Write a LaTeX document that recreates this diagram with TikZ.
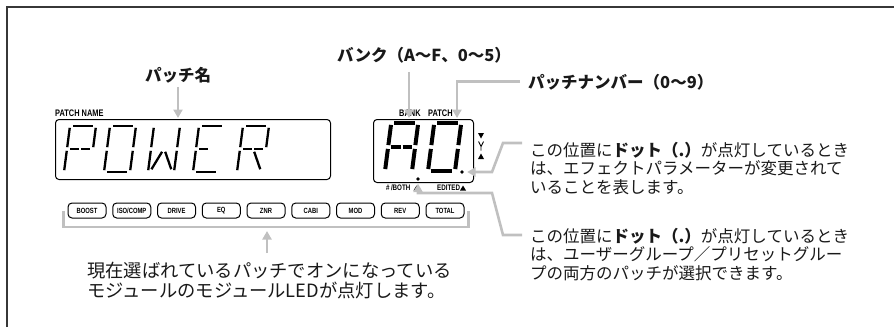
\documentclass[tikz,border=0pt]{standalone}
\usepackage{fontspec}
\setmainfont{Liberation Sans}
\newfontfamily\jpfont{Noto Sans CJK JP}
\newfontfamily\condfont[FakeStretch=0.78]{Liberation Sans}
\usetikzlibrary{arrows.meta}
\definecolor{conngray}{RGB}{192,192,192}
\definecolor{framegray}{RGB}{55,55,55}
\definecolor{txt}{RGB}{25,25,25}
% LCD segments in a unit cell (width 1, height 2)
\newcommand\lsA{\draw (0.12,2)--(0.88,2);}
\newcommand\lsB{\draw (1,1.08)--(1,1.92);}
\newcommand\lsC{\draw (1,0.08)--(1,0.92);}
\newcommand\lsD{\draw (0.12,0)--(0.88,0);}
\newcommand\lsE{\draw (0,0.08)--(0,0.92);}
\newcommand\lsF{\draw (0,1.08)--(0,1.92);}
\newcommand\lsG{\draw (0.12,1)--(0.46,1);}
\newcommand\lsH{\draw (0.54,1)--(0.88,1);}
\newcommand\lsK{\draw (0.56,0.88)--(0.88,0.12);}
\newcommand\lsL{\draw (0.44,0.88)--(0.12,0.12);}
\newcommand\lcdchar[5]{\begin{scope}[shift={(#1,-#2)},xslant=0.13,xscale=#3,yscale=#4]#5\end{scope}}
\newcommand\lcdP{\lsA\lsB\lsF\lsE\lsG\lsH}
\newcommand\lcdO{\lsA\lsB\lsC\lsD\lsE\lsF}
\newcommand\lcdW{\lsB\lsC\lsE\lsF\lsK\lsL}
\newcommand\lcdE{\lsA\lsD\lsE\lsF\lsG}
\newcommand\lcdR{\lsA\lsB\lsE\lsF\lsG\lsH\lsK}
\newcommand\lcdAA{\lsA\lsB\lsC\lsE\lsF\lsG\lsH}
\begin{document}
\begin{tikzpicture}[x=1pt,y=1pt,
  conn/.style={draw=conngray,line width=2.6pt},
  arr/.style={conn,-{Triangle[length=8.5pt,width=9pt]}},
  head/.style={font=\jpfont\bfseries\fontsize{16.5}{18}\selectfont,text=txt,inner sep=0pt,anchor=base west},
  body/.style={font=\jpfont\fontsize{16.5}{19}\selectfont,text=txt,inner sep=0pt,anchor=base west},
  bigbody/.style={body,font=\jpfont\fontsize{18.3}{20}\selectfont},
  tinylabel/.style={font=\condfont\bfseries\fontsize{9.5}{10}\selectfont,inner sep=0pt,anchor=base west},
  tinierlabel/.style={font=\condfont\bfseries\fontsize{8}{9}\selectfont,inner sep=0pt,anchor=base west},
  btn/.style={draw,line width=1pt,rounded corners=4pt,minimum width=38pt,minimum height=15pt,inner sep=0pt,font=\condfont\bfseries\fontsize{7.5}{8}\selectfont},
  lcdbox/.style={draw,line width=1pt,rounded corners=3.5pt,inner sep=0pt,anchor=north west},
  dot/.style={circle,fill,inner sep=0pt,minimum size=3.8pt},
  segthin/.style={line width=2.3pt,line cap=butt},
  segthick/.style={line width=4pt,line cap=butt}
]
\useasboundingbox (0,0) rectangle (894,-327);
% frame (top and left edges)
\draw[framegray,line width=1.6pt] (7,-327) -- (7,-7) -- (894,-7);

% LCD boxes
\node[lcdbox,minimum width=275pt,minimum height=60pt] (namebox) at (55,-119) {};
\node[lcdbox,minimum width=100pt,minimum height=63pt] (bankbox) at (373,-119) {};

% small labels
\node[tinylabel] (pnlabel) at (55,-116.5) {PATCH NAME};
\node[tinylabel] (banklabel) at (399,-116.5) {BANK};
\node[tinylabel] (patchlabel) at (428,-116.5) {PATCH};
\node[tinierlabel] (bothlabel) at (386,-190.5) {\#\,/BOTH};
\node[tinierlabel] (editlabel) at (437,-190.5) {EDITED};
\fill (413.5,-190.5) -- (419.5,-190.5) -- (416.5,-185.5) -- cycle;
\fill (460,-190.5) -- (466,-190.5) -- (463,-185.5) -- cycle;

% POWER
\begin{scope}[segthin]
\lcdchar{64}{172}{26}{23}{\lcdP}
\lcdchar{104}{172}{26}{23}{\lcdO}
\lcdchar{148}{172}{26}{23}{\lcdW}
\lcdchar{193}{172}{26}{23}{\lcdE}
\lcdchar{237}{172}{26}{23}{\lcdR}
\end{scope}
% A0
\begin{scope}[segthick]
\lcdchar{385}{171}{27}{24}{\lcdAA}
\lcdchar{428}{171}{27}{24}{\lcdO}
\end{scope}
\node[dot] (dotboth) at (418,-179) {};
\node[dot] (dotedit) at (462,-172) {};

% up/down indicator at the right of the bank box
\fill (478,-133) -- (484,-133) -- (481,-138.5) -- cycle;
\draw[line width=0.9pt] (478.5,-141.5) -- (481,-146.5) -- (483.5,-141.5) (481,-146.5) -- (481,-150.5);
\fill (478,-159) -- (484,-159) -- (481,-153.5) -- cycle;

% buttons
\foreach \lab [count=\i] in {BOOST,ISO/COMP,DRIVE,EQ,ZNR,CABI,MOD,REV,TOTAL}{
  \node[btn] (btn\i) at ({87+44.75*(\i-1)},-210.5) {\lab};
}
% bracket under the buttons
\draw[conn] ([xshift=-4pt]btn1.west) -- ++(0,-16.5) -| ([xshift=4pt]btn9.east);

% headings
\node[head] (hname) at (145,-81) {パッチ名};
\node[head] (hbank) at (337,-61) {バンク（A～F、0～5）};
\node[head] (hpatch) at (528,-88) {パッチナンバー（0～9）};

% heading arrows
\coordinate (nameTip) at (178,-118);
\coordinate (bankTip) at (409,-118);
\coordinate (patchTip) at (457,-118);
\draw[arr] (nameTip |- hname.south) ++(0,-4) -- (nameTip);
\draw[arr] (bankTip |- hbank.south) ++(0,-9) -- (bankTip);
\draw[arr] ([xshift=-8pt]hpatch.west) -- (patchTip |- hpatch.west) -- (patchTip);

% callout 1
\node[body] (c1a) at (530,-156) {この位置に{\bfseries ドット（.）}が点灯しているとき};
\node[body] (c1b) at (530,-174.5) {は、エフェクトパラメーターが変更されて};
\node[body] (c1c) at (530,-193) {いることを表します。};
\coordinate (c1k) at (522,-143);
\coordinate (c1m) at (503,-143);
\coordinate (c1n) at (492,-172);
\draw[arr,shorten >=3pt] (c1k) -- (c1m) -- (c1n) -- (dotedit);

% callout 2
\node[body] (c2a) at (530,-242) {この位置に{\bfseries ドット（.）}が点灯しているとき};
\node[body] (c2b) at (530,-260.5) {は、ユーザーグループ／プリセットグルー};
\node[body] (c2c) at (530,-279) {プの両方のパッチが選択できます。};
\coordinate (c2k) at (522,-235);
\coordinate (c2m) at (503,-235);
\coordinate (c2n) at (492,-193);
\coordinate (c2o) at (418,-193);
\draw[arr,shorten >=2.5pt] (c2k) -- (c2m) -- (c2n) -- (c2o) -- (dotboth);

% bottom text and arrow
\node[bigbody] (bot1) at (87,-277) {現在選ばれているパッチでオンになっている};
\node[bigbody] (bot2) at (87,-297) {モジュールのモジュールLEDが点灯します。};
\coordinate (upTail) at (267,-253);
\coordinate (upTip) at (267,-231);
\draw[arr] (upTail) -- (upTip);
\end{tikzpicture}
\end{document}
